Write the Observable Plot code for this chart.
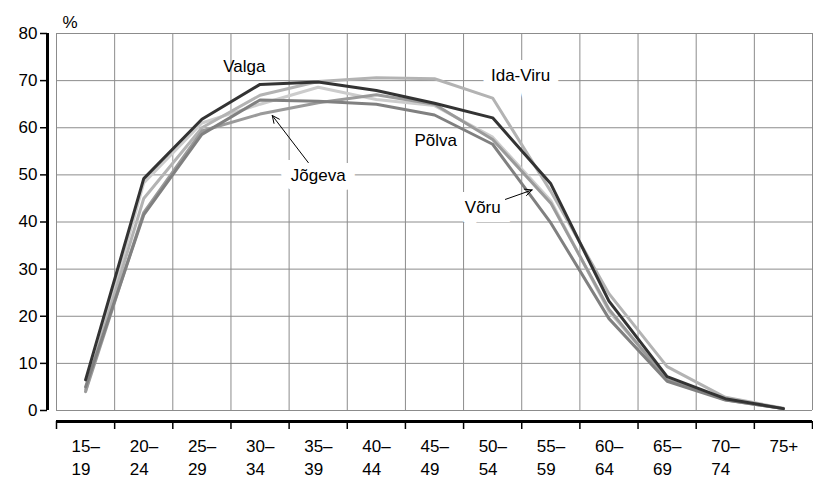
<!DOCTYPE html>
<html><head><meta charset="utf-8">
<script src="https://cdn.jsdelivr.net/npm/d3@7"></script>
<script src="https://cdn.jsdelivr.net/npm/@observablehq/plot@0.6"></script>
<style>body{margin:0;background:#fff}</style>
</head><body><div id="chart"></div>
<script>
const ageGroups = ["15–\n19","20–\n24","25–\n29","30–\n34","35–\n39","40–\n44","45–\n49","50–\n54","55–\n59","60–\n64","65–\n69","70–\n74","75+"];
const yTicks = [0,10,20,30,40,50,60,70,80];
const counties = ["Võru","Ida-Viru","Jõgeva","Põlva","Valga"];
const countyColors = ["#cccccc","#b3b3b3","#9a9a9a","#808080","#333333"];
const valga   = [6.5, 49.2, 61.8, 69.2, 69.7, 67.9, 65.2, 62.1, 48.1, 23.2, 7.2, 2.5, 0.4];
const idaViru = [4.5, 45.0, 60.0, 66.9, 69.8, 70.6, 70.4, 66.3, 46.5, 24.8, 9.3, 2.8, 0.5];
const polva   = [5.0, 41.5, 58.6, 65.9, 65.6, 65.0, 62.7, 56.5, 39.8, 19.5, 6.2, 2.2, 0.4];
const jogeva  = [4.0, 42.0, 59.3, 62.9, 65.3, 67.0, 65.0, 57.5, 44.0, 21.5, 6.5, 2.3, 0.4];
const voru    = [4.0, 48.3, 61.0, 65.0, 68.6, 66.0, 64.7, 58.0, 44.5, 21.0, 6.8, 2.4, 0.4];

// annotations (data coordinates: x = age-group index, y = %)
const plainLabels = [{name:"Valga", x:2.73, y:73.0},{name:"Põlva", x:6.02, y:57.3}];
const boxLabels = [{name:"Ida-Viru", x:7.48, y:71.1},{name:"Jõgeva", x:4.0, y:49.9},{name:"Võru", x:6.83, y:43.1}];
const arrows = [{x1:3.83, y1:52.6, x2:3.21, y2:62.6},{x1:7.22, y1:44.8, x2:7.68, y2:46.8}];

const series = {"Valga":valga,"Ida-Viru":idaViru,"Põlva":polva,"Jõgeva":jogeva,"Võru":voru};
const data = counties.flatMap(c => series[c].map((v,i) => ({county:c, i, v})));
const boundaries = d3.range(0, ageGroups.length + 1).map(k => k - 0.5);

const plotH = 483 - 33 - 62;
const gapPx = 11;
const yMin = -gapPx * 80 / (plotH - gapPx);
const gridColor = "#8c8c8c";
const fs = 17;

const chart = Plot.plot({
  width: 813, height: 483,
  marginLeft: 56, marginRight: 1, marginTop: 33, marginBottom: 62,
  style: {fontFamily: "'Liberation Sans', Arial, sans-serif", fontSize: fs + "px", background: "#fff", color: "#000"},
  x: {type: "linear", domain: [-0.5, ageGroups.length - 0.5], axis: null},
  y: {domain: [yMin, 80], axis: null},
  color: {domain: counties, range: countyColors},
  marks: [
    Plot.ruleY(yTicks, {stroke: gridColor, strokeWidth: 1}),
    Plot.ruleX(boundaries, {y1: 0, y2: 80, stroke: gridColor, strokeWidth: 1}),
    Plot.ruleX([-0.5], {y1: 0, y2: 80, dx: -9, stroke: "#000", strokeWidth: 3}),
    Plot.axisY(yTicks, {tickSize: 7, tickFormat: () => "", dx: -9, stroke: "#000", strokeWidth: 1.5}),
    Plot.text(yTicks, {y: d => d, frameAnchor: "left", dx: -19, textAnchor: "end", text: d => String(d), fontSize: fs}),
    Plot.ruleY([yMin], {stroke: "#000", strokeWidth: 3}),
    Plot.axisX(boundaries, {tickSize: 8, tickFormat: () => "", stroke: "#000", strokeWidth: 1.5}),
    Plot.text(ageGroups, {x: (d, i) => i, frameAnchor: "bottom", dy: 14, dx: -14, lineAnchor: "top", textAnchor: "start", lineHeight: 1.35, text: d => d, fontSize: fs}),
    Plot.text(["%"], {frameAnchor: "top-left", dx: 6, dy: -18, text: d => d, fontSize: fs}),
    Plot.text(boxLabels, {x: "x", y: "y", text: "name", fontSize: fs, fill: "#000", stroke: "#fff", strokeWidth: 18, strokeLinejoin: "miter"}),
    Plot.text(plainLabels, {x: "x", y: "y", text: "name", fontSize: fs, fill: "#000"}),
    Plot.line(data, {x: "i", y: "v", z: "county", stroke: "county", strokeWidth: 3, strokeLinejoin: "miter"}),
    Plot.arrow(arrows, {x1: "x1", y1: "y1", x2: "x2", y2: "y2", stroke: "#000", strokeWidth: 1, headLength: 12, headAngle: 50})
  ]
});
document.getElementById("chart").appendChild(chart);
</script>
</body></html>
